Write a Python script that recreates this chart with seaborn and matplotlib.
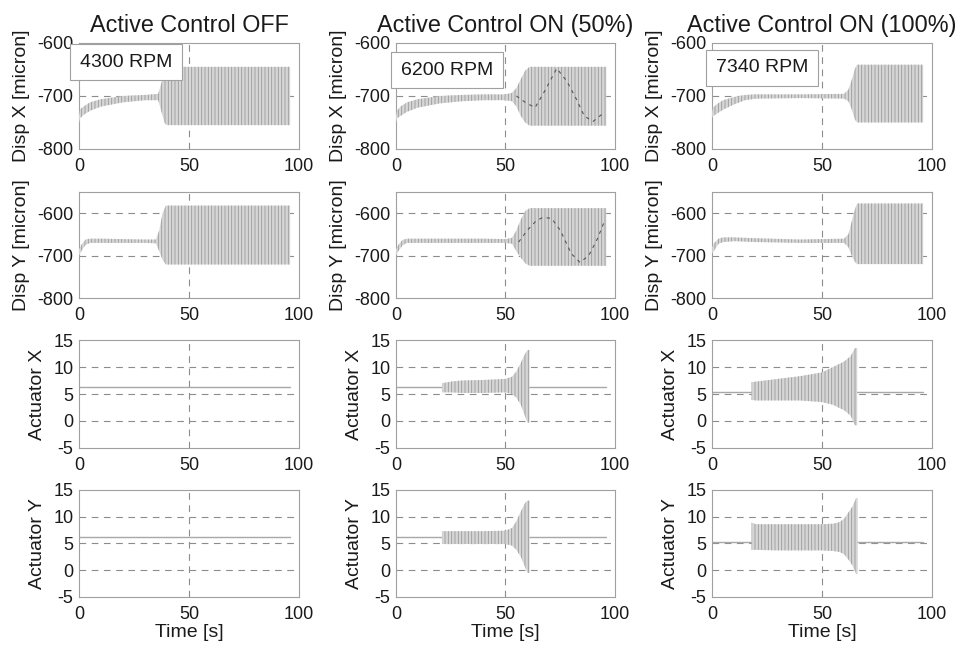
import numpy as np
import pandas as pd
import matplotlib
matplotlib.use("Agg")
import matplotlib.pyplot as plt
import seaborn as sns

# ---------------- data ----------------
col_titles = ["Active Control OFF", "Active Control ON (50%)", "Active Control ON (100%)"]
rpm_labels = ["4300 RPM", "6200 RPM", "7340 RPM"]
row_labels = ["Disp X [micron]", "Disp Y [micron]", "Actuator X", "Actuator Y"]
time_ticks = [0, 50, 100]
disp_ticks = [-800, -700, -600]
act_ticks = [-5, 0, 5, 10, 15]

# Column 1 (OFF) envelopes
c1_dx_t = [0, 0.5, 2, 5, 10, 20, 30, 36, 37.5, 39, 40, 96]
c1_dx_lo = [-752, -742, -736, -728, -720, -712, -708, -708, -730, -752, -755, -755]
c1_dx_hi = [-738, -725, -720, -712, -706, -700, -698, -696, -675, -655, -645, -645]
c1_dy_t = [0, 1, 3, 5, 10, 20, 30, 35, 36.5, 38, 39.5, 96]
c1_dy_lo = [-700, -690, -675, -670, -670, -670, -670, -671, -690, -710, -721, -721]
c1_dy_hi = [-685, -675, -662, -660, -660, -661, -662, -662, -640, -600, -582, -582]
c1_ax_line_t = [0, 96]
c1_ax_line_v = [6.3, 6.3]
c1_ay_line_t = [0, 96]
c1_ay_line_v = [6.3, 6.3]

# Column 2 (ON 50%)
c2_dx_t = [0, 0.5, 2, 5, 10, 20, 30, 40, 50, 53, 55, 57, 59, 61, 96]
c2_dx_lo = [-752, -742, -738, -730, -722, -714, -710, -708, -708, -710, -720, -738, -750, -756, -756]
c2_dx_hi = [-738, -728, -720, -712, -706, -700, -698, -697, -697, -694, -685, -668, -652, -645, -645]
c2_dx_beat_t = [55, 59, 63.5, 68, 73.4, 78, 82.5, 86, 90, 95.4]
c2_dx_beat_v = [-700, -712, -722, -690, -648, -672, -707, -738, -748, -730]
c2_dy_t = [0, 1, 3, 5, 10, 20, 30, 40, 50, 53, 55, 57, 59, 61, 96]
c2_dy_lo = [-700, -690, -676, -670, -670, -670, -670, -670, -670, -672, -690, -705, -718, -724, -724]
c2_dy_hi = [-685, -675, -663, -660, -660, -660, -660, -660, -661, -658, -640, -615, -595, -588, -588]
c2_dy_beat_t = [56, 60, 64, 67, 71, 75, 80, 84, 88, 92, 95.5]
c2_dy_beat_v = [-668, -640, -618, -610, -612, -640, -695, -716, -700, -660, -615]
c2_ax_line_t = [0, 96]
c2_ax_line_v = [6.3, 6.3]
c2_ax_t = [21, 25, 30, 40, 50, 53, 55, 57, 59, 60, 61]
c2_ax_lo = [5.3, 5.3, 5.2, 5.2, 5.3, 5.0, 4.3, 3.0, 0.8, -0.3, -0.3]
c2_ax_hi = [7.0, 7.3, 7.5, 7.6, 7.8, 8.2, 9.2, 10.8, 12.5, 13.1, 13.2]
c2_ay_line_t = [0, 96]
c2_ay_line_v = [6.3, 6.3]
c2_ay_t = [21, 25, 30, 40, 50, 53, 55, 57, 59, 60, 61]
c2_ay_lo = [4.9, 4.9, 4.9, 4.9, 4.9, 4.6, 3.8, 2.5, 0.5, -0.5, -0.5]
c2_ay_hi = [7.3, 7.3, 7.3, 7.3, 7.4, 7.9, 9.2, 11.0, 12.6, 13.0, 13.0]

# Column 3 (ON 100%)
c3_dx_t = [0, 0.5, 2, 5, 10, 15, 20, 40, 60, 62, 63.5, 65, 66, 96]
c3_dx_lo = [-742, -738, -734, -726, -716, -708, -705, -704, -705, -710, -725, -745, -750, -750]
c3_dx_hi = [-730, -722, -716, -708, -702, -698, -697, -697, -696, -688, -670, -648, -641, -641]
c3_dy_t = [0, 1, 3, 5, 10, 20, 40, 60, 62, 63.5, 65, 66, 96]
c3_dy_lo = [-695, -688, -672, -668, -666, -668, -670, -670, -680, -700, -715, -720, -720]
c3_dy_hi = [-680, -670, -660, -657, -657, -659, -662, -660, -650, -620, -590, -577, -577]
c3_ax_line_t = [0, 96]
c3_ax_line_v = [5.3, 5.3]
c3_ax_t = [18, 20, 30, 40, 50, 55, 60, 63, 65, 66]
c3_ax_lo = [3.9, 3.8, 3.8, 3.8, 3.5, 3.0, 2.0, 1.0, -0.8, -0.8]
c3_ax_hi = [7.2, 7.3, 7.8, 8.3, 9.0, 10.0, 11.0, 12.0, 13.5, 13.5]
c3_ay_line_t = [0, 96]
c3_ay_line_v = [5.3, 5.3]
c3_ay_t = [18, 20, 30, 40, 50, 55, 58, 60, 62, 64, 65.5, 66.2]
c3_ay_lo = [3.8, 3.8, 3.7, 3.7, 3.7, 3.6, 3.4, 3.0, 2.0, 0.8, -0.7, -0.7]
c3_ay_hi = [8.9, 8.6, 8.6, 8.6, 8.6, 8.7, 9.0, 9.6, 10.8, 12.0, 13.5, 13.5]

# ---------------- assemble panels ----------------
panels = {
    (0, 0): dict(band=(c1_dx_t, c1_dx_lo, c1_dx_hi)),
    (1, 0): dict(band=(c1_dy_t, c1_dy_lo, c1_dy_hi)),
    (2, 0): dict(line=(c1_ax_line_t, c1_ax_line_v)),
    (3, 0): dict(line=(c1_ay_line_t, c1_ay_line_v)),
    (0, 1): dict(band=(c2_dx_t, c2_dx_lo, c2_dx_hi), beat=(c2_dx_beat_t, c2_dx_beat_v)),
    (1, 1): dict(band=(c2_dy_t, c2_dy_lo, c2_dy_hi), beat=(c2_dy_beat_t, c2_dy_beat_v)),
    (2, 1): dict(line=(c2_ax_line_t, c2_ax_line_v), band=(c2_ax_t, c2_ax_lo, c2_ax_hi)),
    (3, 1): dict(line=(c2_ay_line_t, c2_ay_line_v), band=(c2_ay_t, c2_ay_lo, c2_ay_hi)),
    (0, 2): dict(band=(c3_dx_t, c3_dx_lo, c3_dx_hi)),
    (1, 2): dict(band=(c3_dy_t, c3_dy_lo, c3_dy_hi)),
    (2, 2): dict(line=(c3_ax_line_t, c3_ax_line_v), band=(c3_ax_t, c3_ax_lo, c3_ax_hi)),
    (3, 2): dict(line=(c3_ay_line_t, c3_ay_line_v), band=(c3_ay_t, c3_ay_lo, c3_ay_hi)),
}

sns.set_theme(style="white")
plt.rcParams["font.family"] = ["Liberation Sans", "DejaVu Sans"]
plt.rcParams["axes.unicode_minus"] = False
plt.rcParams["hatch.linewidth"] = 0.6
plt.rcParams["hatch.color"] = "#9a9a9a"

fig = plt.figure(figsize=(9.62, 6.52), dpi=100)

col_left = [0.0821, 0.4116, 0.7401]
col_width = [0.2287, 0.2277, 0.2287]
row_bottom = [0.7715, 0.5429, 0.3129, 0.0844]
row_height = [0.1626, 0.1626, 0.1656, 0.1641]
rpm_pos = [(0.214, 0.82), (0.233, 0.745), (0.227, 0.764)]

band_face = "#d6d6d6"
line_col = "#a8a8a8"
grid_col = "#8c8c8c"
text_col = "#1a1a1a"

for (r, c), spec in panels.items():
    ax = fig.add_axes([col_left[c], row_bottom[r], col_width[c], row_height[r]])
    ax.set_facecolor("white")
    if r < 2:
        ylim = (-800, -600) if r == 0 else (-800, -550)
        yt = disp_ticks
        hgrid = [-700] if r == 0 else [-700, -600]
    else:
        ylim = (-5, 15)
        yt = act_ticks
        hgrid = [0, 5, 10]
    for g in hgrid:
        ax.axhline(g, color=grid_col, lw=0.8, ls=(0, (6, 5)), zorder=1)
    ax.axvline(50, color=grid_col, lw=0.8, ls=(0, (6, 5)), zorder=1)

    if "line" in spec:
        lt, lv = spec["line"]
        sns.lineplot(x=lt, y=lv, ax=ax, color=line_col, lw=1.0, zorder=2)
    if "band" in spec:
        bt, blo, bhi = spec["band"]
        ax.fill_between(bt, blo, bhi, facecolor=band_face, edgecolor="#9a9a9a",
                        hatch="|||||", linewidth=0, zorder=3)
    if "beat" in spec:
        wt, wv = spec["beat"]
        sns.lineplot(x=wt, y=wv, ax=ax, color="#555555", lw=0.8,
                     ls=(0, (3, 4)), zorder=4)

    ax.set_xlim(0, 100)
    ax.set_ylim(*ylim)
    ax.set_xticks(time_ticks)
    ax.set_yticks(yt)
    ax.tick_params(length=0, labelsize=13, colors=text_col)
    ax.tick_params(axis="x", pad=6.5)
    ax.tick_params(axis="y", pad=4)
    for s in ax.spines.values():
        s.set_color("#a0a0a0")
        s.set_linewidth(0.8)
    ax.set_ylabel(row_labels[r], fontsize=14, color=text_col, labelpad=5)
    if r == 3:
        ax.set_xlabel("Time [s]", fontsize=14, color=text_col, labelpad=1)
    if r == 0:
        ax.set_title(col_titles[c], fontsize=16.8, color=text_col, pad=8)
        px, py = rpm_pos[c]
        ax.text(px, py, rpm_labels[c], transform=ax.transAxes, ha="center",
                va="center", fontsize=14, color=text_col, zorder=6,
                bbox=dict(boxstyle="square,pad=0.5", fc="white", ec="#a0a0a0", lw=0.8))

fig.savefig("out.png", dpi=100, facecolor="white")
